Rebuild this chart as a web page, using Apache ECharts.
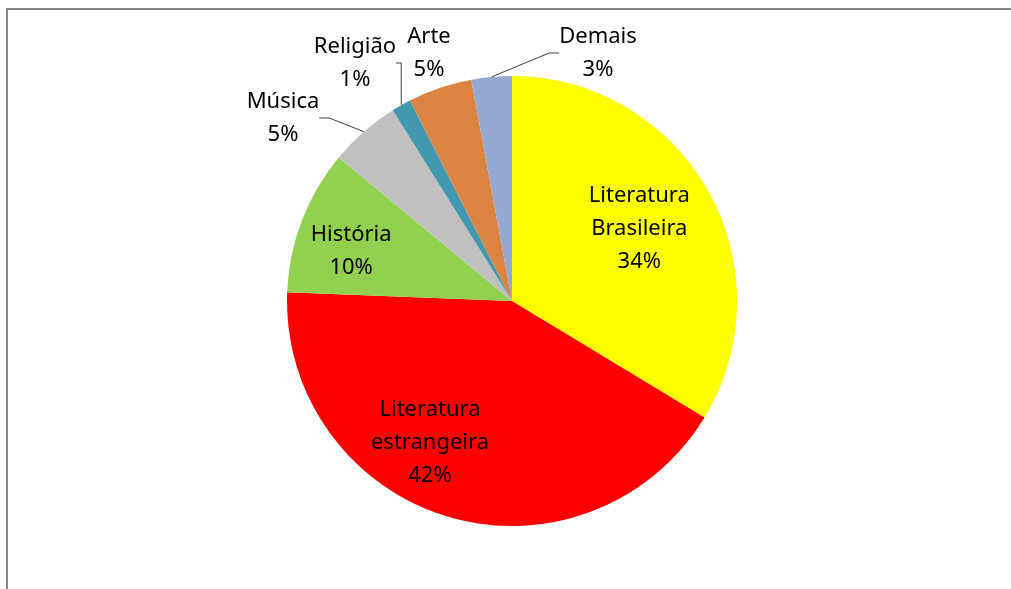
<!DOCTYPE html>
<html>
<head>
<meta charset="utf-8">
<script src="https://cdn.jsdelivr.net/npm/echarts@6/dist/echarts.min.js"></script>
<style>
  html, body { margin: 0; padding: 0; background: #fff; }
  #chart { width: 1011px; height: 589px; }
</style>
</head>
<body>
<div id="chart"></div>
<script>
const categories = ['Literatura\nBrasileira', 'Literatura\nestrangeira', 'História', 'Música', 'Religião', 'Arte', 'Demais']
const values = [33.7, 42.0, 10.4, 5.1, 1.4, 4.6, 2.9]
const colors = ['#FFFF00', '#FF0000', '#92D050', '#BFBFBF', '#4198AF', '#DC8441', '#94A9D1']

// labels drawn inside the pie (with a little nudge like Excel does)
const insideOffsets = { 0: [-6, 3], 1: [-38, -5], 2: [-18, 5] }
// labels outside, placed next to the small slices
const outsidePos = { 3: [283, 118], 4: [355, 63], 5: [429, 53], 6: [598, 53] }

const pctText = p => p.name + '\n' + Math.round(p.percent) + '%'

const chart = echarts.init(document.getElementById('chart'))

const mainData = values.map((v, i) => {
  let item = { name: categories[i], value: v, itemStyle: { color: colors[i] } }
  if (outsidePos[i] === undefined) {
    item.label = { show: false }
    item.labelLine = { show: false }
  }
  if (i === 5) item.labelLine = { show: false }
  return item
})

const overlayData = values.map((v, i) => {
  let item = { name: categories[i], value: v }
  if (insideOffsets[i] === undefined) {
    item.label = { show: false }
  } else {
    item.label = { offset: insideOffsets[i] }
  }
  return item
})

const font = {
  fontFamily: 'Noto Sans',
  fontSize: 22,
  lineHeight: 33,
  color: '#000'
}

chart.setOption({
  animation: false,
  graphic: [
    {
      type: 'rect',
      shape: { x: 7, y: 9, width: 1100, height: 700 },
      style: { fill: 'none', stroke: '#888888', lineWidth: 2 },
      silent: true
    }
  ],
  series: [
    {
      type: 'pie',
      center: [512, 301],
      radius: 225,
      startAngle: 90,
      clockwise: true,
      data: mainData,
      itemStyle: { borderWidth: 0 },
      label: Object.assign({
        show: true,
        position: 'outside',
        formatter: pctText,
        align: 'center'
      }, font),
      labelLine: {
        show: true,
        length: 10,
        length2: 10,
        lineStyle: { color: '#404040', width: 1 }
      },
      labelLayout: (params) => {
        let pos = outsidePos[params.dataIndex]
        if (!pos) return {}
        return { x: pos[0], y: pos[1], align: 'center', verticalAlign: 'middle' }
      }
    },
    {
      type: 'pie',
      center: [512, 301],
      radius: 300,
      startAngle: 90,
      clockwise: true,
      silent: true,
      data: overlayData,
      itemStyle: { color: 'rgba(0,0,0,0)' },
      label: Object.assign({
        show: true,
        position: 'inside',
        formatter: pctText,
        align: 'center'
      }, font),
      labelLine: { show: false }
    }
  ]
})
</script>
</body>
</html>
